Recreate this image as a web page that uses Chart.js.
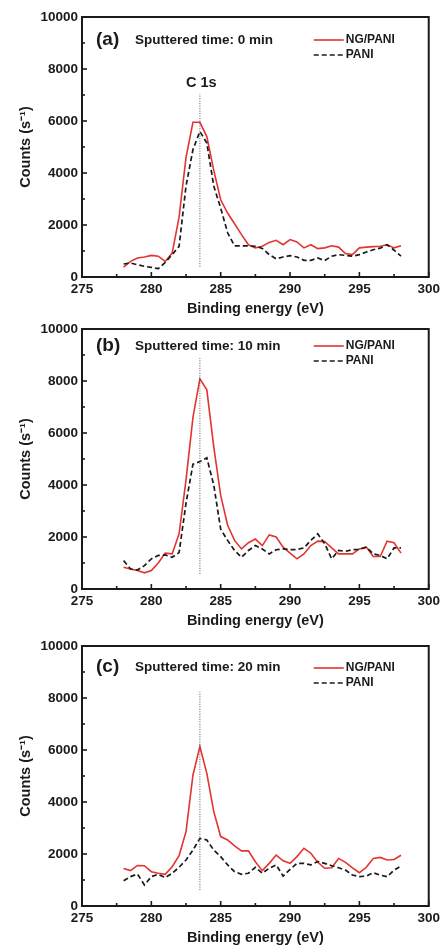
<!DOCTYPE html>
<html>
<head>
<meta charset="utf-8">
<script src="https://cdn.jsdelivr.net/npm/chart.js@4.4.0/dist/chart.umd.min.js"></script>
<style>
  html, body { margin: 0; padding: 0; background: #fff; }
  #wrap { position: relative; width: 444px; height: 949px; overflow: hidden; }
  .panel { position: absolute; left: 0; width: 444px; height: 320px; }
</style>
</head>
<body>
<div id="wrap">
  <div class="panel" style="top:0px"><canvas id="chartA" width="444" height="320"></canvas></div>
  <div class="panel" style="top:312px"><canvas id="chartB" width="444" height="320"></canvas></div>
  <div class="panel" style="top:629px"><canvas id="chartC" width="444" height="320"></canvas></div>
</div>
<script>
// binding energy (eV) of every sample point
const energy = [278, 278.5, 279, 279.5, 280, 280.5, 281, 281.5, 282, 282.5,
                283, 283.5, 284, 284.5, 285, 285.5, 286, 286.5, 287, 287.5,
                288, 288.5, 289, 289.5, 290, 290.5, 291, 291.5, 292, 292.5,
                293, 293.5, 294, 294.5, 295, 295.5, 296, 296.5, 297, 297.5, 298];

// (a) sputtered 0 min
const ngA   = [380, 600, 730, 770, 830, 800, 600, 920, 2300, 4600,
               5950, 5950, 5400, 4100, 2970, 2460, 2050, 1630, 1240, 1120,
               1180, 1330, 1410, 1240, 1440, 1350, 1120, 1240, 1090, 1120,
               1200, 1150, 900, 860, 1120, 1150, 1170, 1180, 1240, 1120, 1200];
const paniA = [500, 540, 470, 410, 370, 320, 560, 860, 1180, 3500,
               4900, 5600, 5150, 3500, 2650, 1700, 1200, 1200, 1200, 1180,
               1100, 860, 700, 770, 820, 770, 640, 640, 730, 630,
               800, 860, 830, 800, 860, 960, 1050, 1110, 1240, 1030, 800];

// (b) sputtered 10 min
const ngB   = [840, 770, 710, 620, 710, 1000, 1380, 1350, 2120, 4200,
               6600, 8080, 7660, 5470, 3600, 2450, 1870, 1540, 1780, 1920,
               1670, 2080, 2000, 1610, 1380, 1160, 1350, 1670, 1840, 1830,
               1580, 1350, 1350, 1350, 1540, 1610, 1250, 1250, 1840, 1780, 1380];
const paniB = [1090, 770, 730, 900, 1160, 1290, 1310, 1220, 1400, 3300,
               4800, 4900, 5050, 4000, 2300, 1870, 1480, 1220, 1480, 1670,
               1540, 1350, 1510, 1540, 1510, 1520, 1580, 1870, 2120, 1740,
               1160, 1480, 1450, 1510, 1520, 1610, 1350, 1290, 1160, 1580, 1580];

// (c) sputtered 20 min
const ngC   = [1440, 1360, 1560, 1550, 1320, 1260, 1220, 1510, 1940, 2860,
               5040, 6130, 5100, 3630, 2670, 2540, 2310, 2120, 2120, 1700,
               1360, 1640, 1960, 1740, 1640, 1900, 2220, 2030, 1680, 1450,
               1470, 1830, 1680, 1470, 1280, 1490, 1830, 1870, 1770, 1790, 1950];
const paniC = [970, 1130, 1230, 810, 1130, 1220, 1090, 1260, 1490, 1770,
               2150, 2600, 2540, 2150, 1900, 1580, 1320, 1220, 1260, 1490,
               1260, 1450, 1580, 1150, 1410, 1640, 1640, 1580, 1710, 1640,
               1550, 1470, 1380, 1190, 1130, 1150, 1280, 1190, 1130, 1380, 1540];

// dotted C 1s marker line: x position and y ends per panel
const markerX = 283.5;
const markerA = [400, 7050];
const markerB = [580, 8880];
const markerC = [620, 8240];

const seriesNames = ['NG/PANI', 'PANI'];
const panelLetters = ['(a)', '(b)', '(c)'];
const sputterTimes = ['Sputtered time: 0 min', 'Sputtered time: 10 min', 'Sputtered time: 20 min'];
const xTicks = [275, 280, 285, 290, 295, 300];
const yTicks = [0, 2000, 4000, 6000, 8000, 10000];

// small per-panel vertical offsets of the header text (px below plot top)
const headerDy = [23, 17, 21];
const legendDy = [23, 17, 22];

const FONT = "'Liberation Sans', Arial, sans-serif";
const INK = '#1a1a1a';
const RED = '#e3342f';

function toPoints(ys) {
    return energy.map((e, i) => ({ x: e, y: ys[i] }));
}

// box, inward ticks, panel label and legend drawn inside the plot
const panelDecor = {
    id: 'panelDecor',
    afterDraw(chart, args, opts) {
        const { ctx, chartArea: ca, scales } = chart;
        const x = scales.x, y = scales.y;
        ctx.save();

        ctx.strokeStyle = INK;
        ctx.lineWidth = 1.6;
        for (let i = 0; i < xTicks.length; i++) {
            const px = x.getPixelForValue(xTicks[i]);
            ctx.beginPath(); ctx.moveTo(px, ca.bottom); ctx.lineTo(px, ca.bottom - 5); ctx.stroke();
            if (i < xTicks.length - 1) {
                const mx = x.getPixelForValue((xTicks[i] + xTicks[i + 1]) / 2);
                ctx.beginPath(); ctx.moveTo(mx, ca.bottom); ctx.lineTo(mx, ca.bottom - 3); ctx.stroke();
            }
        }
        for (let i = 0; i < yTicks.length; i++) {
            const py = y.getPixelForValue(yTicks[i]);
            ctx.beginPath(); ctx.moveTo(ca.left, py); ctx.lineTo(ca.left + 5, py); ctx.stroke();
            if (i < yTicks.length - 1) {
                const my = y.getPixelForValue((yTicks[i] + yTicks[i + 1]) / 2);
                ctx.beginPath(); ctx.moveTo(ca.left, my); ctx.lineTo(ca.left + 3, my); ctx.stroke();
            }
        }

        ctx.lineWidth = 2;
        ctx.strokeRect(ca.left, ca.top, ca.right - ca.left, ca.bottom - ca.top);

        // panel letter and sputter time
        ctx.fillStyle = INK;
        ctx.textBaseline = 'middle';
        ctx.textAlign = 'left';
        ctx.font = 'bold 19px ' + FONT;
        ctx.fillText(opts.letter, ca.left + 14, ca.top + opts.headerDy);
        ctx.font = 'bold 13.5px ' + FONT;
        ctx.fillText(opts.time, ca.left + 53, ca.top + opts.headerDy);

        if (opts.peakLabel) {
            ctx.textAlign = 'center';
            ctx.font = 'bold 14.5px ' + FONT;
            ctx.fillText(opts.peakLabel, x.getPixelForValue(283.6), y.getPixelForValue(7450));
        }

        // legend, styled from the datasets
        const rows = [chart.data.datasets[2], chart.data.datasets[1]];
        ctx.textAlign = 'left';
        ctx.font = 'bold 12px ' + FONT;
        rows.forEach((ds, k) => {
            const ly = ca.top + opts.legendDy + k * 15;
            ctx.strokeStyle = ds.borderColor;
            ctx.lineWidth = ds.borderWidth;
            ctx.setLineDash(ds.borderDash || []);
            ctx.beginPath(); ctx.moveTo(ca.right - 115, ly); ctx.lineTo(ca.right - 85, ly); ctx.stroke();
            ctx.setLineDash([]);
            ctx.fillStyle = INK;
            ctx.fillText(ds.label, ca.right - 83, ly);
        });
        ctx.restore();
    }
};

function makePanel(id, ng, pani, marker, idx) {
    return new Chart(document.getElementById(id).getContext('2d'), {
        type: 'line',
        data: {
            datasets: [
                {
                    label: 'C 1s',
                    data: [{ x: markerX, y: marker[0] }, { x: markerX, y: marker[1] }],
                    borderColor: '#555',
                    borderWidth: 1,
                    borderDash: [1, 1.5],
                    pointRadius: 0
                },
                {
                    label: seriesNames[1],
                    data: toPoints(pani),
                    borderColor: INK,
                    borderWidth: 1.7,
                    borderDash: [5, 3],
                    pointRadius: 0
                },
                {
                    label: seriesNames[0],
                    data: toPoints(ng),
                    borderColor: RED,
                    borderWidth: 1.6,
                    pointRadius: 0
                }
            ]
        },
        options: {
            responsive: false,
            animation: false,
            layout: { padding: { top: 17, right: 11, left: 0, bottom: 0 } },
            elements: { line: { tension: 0 } },
            plugins: {
                legend: { display: false },
                tooltip: { enabled: false },
                panelDecor: {
                    letter: panelLetters[idx],
                    time: sputterTimes[idx],
                    peakLabel: idx === 0 ? 'C 1s' : null,
                    headerDy: headerDy[idx],
                    legendDy: legendDy[idx]
                }
            },
            scales: {
                x: {
                    type: 'linear',
                    min: 275,
                    max: 300,
                    afterBuildTicks: (s) => { s.ticks = xTicks.map(v => ({ value: v })); },
                    ticks: {
                        padding: 4, color: INK, maxRotation: 0,
                        font: { family: FONT, size: 13.5, weight: 'bold' },
                        callback: (v) => String(v)
                    },
                    grid: { display: false, drawTicks: false },
                    border: { display: false },
                    title: {
                        display: true,
                        text: 'Binding energy (eV)',
                        color: INK,
                        font: { family: FONT, size: 14.5, weight: 'bold' },
                        padding: { top: 0, bottom: 2 }
                    },
                    afterFit: (s) => { s.height = 43; }
                },
                y: {
                    min: 0,
                    max: 10000,
                    afterBuildTicks: (s) => { s.ticks = yTicks.map(v => ({ value: v })); },
                    ticks: {
                        padding: 4, color: INK,
                        font: { family: FONT, size: 13.5, weight: 'bold' },
                        callback: (v) => String(v)
                    },
                    grid: { display: false, drawTicks: false },
                    border: { display: false },
                    title: {
                        display: true,
                        text: 'Counts (s⁻¹)',
                        color: INK,
                        font: { family: FONT, size: 14.5, weight: 'bold' },
                        padding: { top: 17, bottom: 0 }
                    },
                    afterFit: (s) => { s.width = 82; }
                }
            }
        },
        plugins: [panelDecor]
    });
}

makePanel('chartA', ngA, paniA, markerA, 0);
makePanel('chartB', ngB, paniB, markerB, 1);
makePanel('chartC', ngC, paniC, markerC, 2);
</script>
</body>
</html>
